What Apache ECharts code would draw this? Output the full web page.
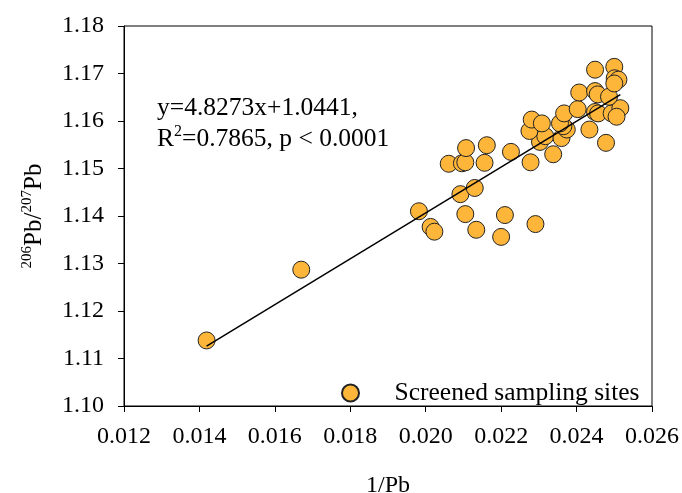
<!DOCTYPE html>
<html>
<head>
<meta charset="utf-8">
<script src="https://cdn.jsdelivr.net/npm/echarts@6/dist/echarts.min.js"></script>
<style>
  html, body { margin: 0; padding: 0; background: #fff; }
  #chart { width: 682px; height: 493px; }
</style>
</head>
<body>
<div id="chart"></div>
<script>
// 1/Pb values of the screened sites
const invPb = [
  0.01419, 0.01670, 0.01982, 0.02013, 0.02023, 0.02105, 0.02134, 0.02210,
  0.02200, 0.02291, 0.02092, 0.02130, 0.02061, 0.02096, 0.02105, 0.02107,
  0.02162, 0.02156, 0.02226, 0.02278, 0.02338, 0.02478, 0.02434, 0.02303,
  0.02317, 0.02360, 0.02374, 0.02365, 0.02356, 0.02275, 0.02281, 0.02308,
  0.02367, 0.02403, 0.02449, 0.02457, 0.02493, 0.02516, 0.02506, 0.02407,
  0.02449, 0.02456, 0.02486, 0.02449, 0.02500, 0.02501, 0.02511, 0.02500
];
// 206Pb/207Pb ratios
const ratio = [
  1.1138, 1.1287, 1.1410, 1.1377, 1.1367, 1.1404, 1.1371, 1.1402,
  1.1356, 1.1383, 1.1446, 1.1459, 1.1510, 1.1511, 1.1513, 1.1543,
  1.1549, 1.1512, 1.1535, 1.1513, 1.1530, 1.1554, 1.1582, 1.1556,
  1.1568, 1.1564, 1.1582, 1.1589, 1.1595, 1.1579, 1.1603, 1.1595,
  1.1616, 1.1625, 1.1619, 1.1616, 1.1616, 1.1627, 1.1609, 1.1660,
  1.1663, 1.1656, 1.1651, 1.1708, 1.1714, 1.1690, 1.1687, 1.1679
];
// linear fit y = slope * x + intercept
const slope = 4.8273;
const intercept = 1.0441;

const font = 'Liberation Serif';

const points = invPb.map((x, i) => [x, ratio[i]]);
const xLo = Math.min(...invPb);
const xHi = Math.max(...invPb);
const fitLine = [[xLo, slope * xLo + intercept], [xHi, slope * xHi + intercept]];

let chart = echarts.init(document.getElementById('chart'), null, { renderer: 'canvas' });

chart.setOption({
  animation: false,
  textStyle: { fontFamily: font, color: '#000' },
  grid: {
    left: 124, right: 30, top: 26, bottom: 87,
    outerBoundsMode: 'none',
    show: true, borderColor: '#000', borderWidth: 1
  },
  legend: {
    left: 336, top: 375,
    itemWidth: 28, itemHeight: 17,
    data: ['Screened sampling sites'],
    textStyle: { fontFamily: font, fontSize: 25.5, color: '#000', padding: [0, 0, 0, 25] }
  },
  xAxis: {
    type: 'value',
    min: 0.012, max: 0.026, interval: 0.002,
    name: '1/Pb',
    nameLocation: 'middle',
    nameGap: 68,
    nameTextStyle: { fontFamily: font, fontSize: 24, color: '#000' },
    axisLine: { lineStyle: { color: '#000' } },
    axisTick: { length: 6, lineStyle: { color: '#000' } },
    axisLabel: { margin: 19, fontFamily: font, fontSize: 24, color: '#000', formatter: v => v.toFixed(3) },
    splitLine: { show: false }
  },
  yAxis: {
    type: 'value',
    min: 1.10, max: 1.18, interval: 0.01,
    name: '{sup|206}{b|Pb/}{sup|207}{b|Pb}',
    nameLocation: 'middle',
    nameRotate: 90,
    nameGap: 76,
    nameTextStyle: {
      rich: {
        b: { fontFamily: font, fontSize: 25, color: '#000', lineHeight: 28 },
        sup: { fontFamily: font, fontSize: 15, color: '#000', lineHeight: 28, verticalAlign: 'top', padding: [0, 0, 10, 0] }
      }
    },
    axisLine: { lineStyle: { color: '#000' } },
    axisTick: { length: 6, lineStyle: { color: '#000' } },
    axisLabel: { margin: 20, fontFamily: font, fontSize: 24, color: '#000', formatter: v => v.toFixed(2) },
    splitLine: { show: false }
  },
  graphic: [{
    type: 'text',
    left: 157, top: 95,
    style: {
      text: '{a|y=4.8273x+1.0441,}\n{a|R}{s|2}{a|=0.7865, p < 0.0001}',
      rich: {
        a: { fontFamily: font, fontSize: 25.5, fill: '#000', lineHeight: 31 },
        s: { fontFamily: font, fontSize: 16, fill: '#000', lineHeight: 31, verticalAlign: 'top', padding: [0, 0, 10, 0] }
      }
    }
  }],
  series: [
    {
      name: 'fit',
      type: 'line',
      data: fitLine,
      symbol: 'none',
      lineStyle: { color: '#000', width: 1.5 },
      z: 3
    },
    {
      name: 'Screened sampling sites',
      type: 'scatter',
      data: points,
      symbol: 'circle',
      symbolSize: 17,
      itemStyle: { color: '#FDB53A', borderColor: '#222', borderWidth: 1, opacity: 1 },
      z: 2
    }
  ]
});
</script>
</body>
</html>
